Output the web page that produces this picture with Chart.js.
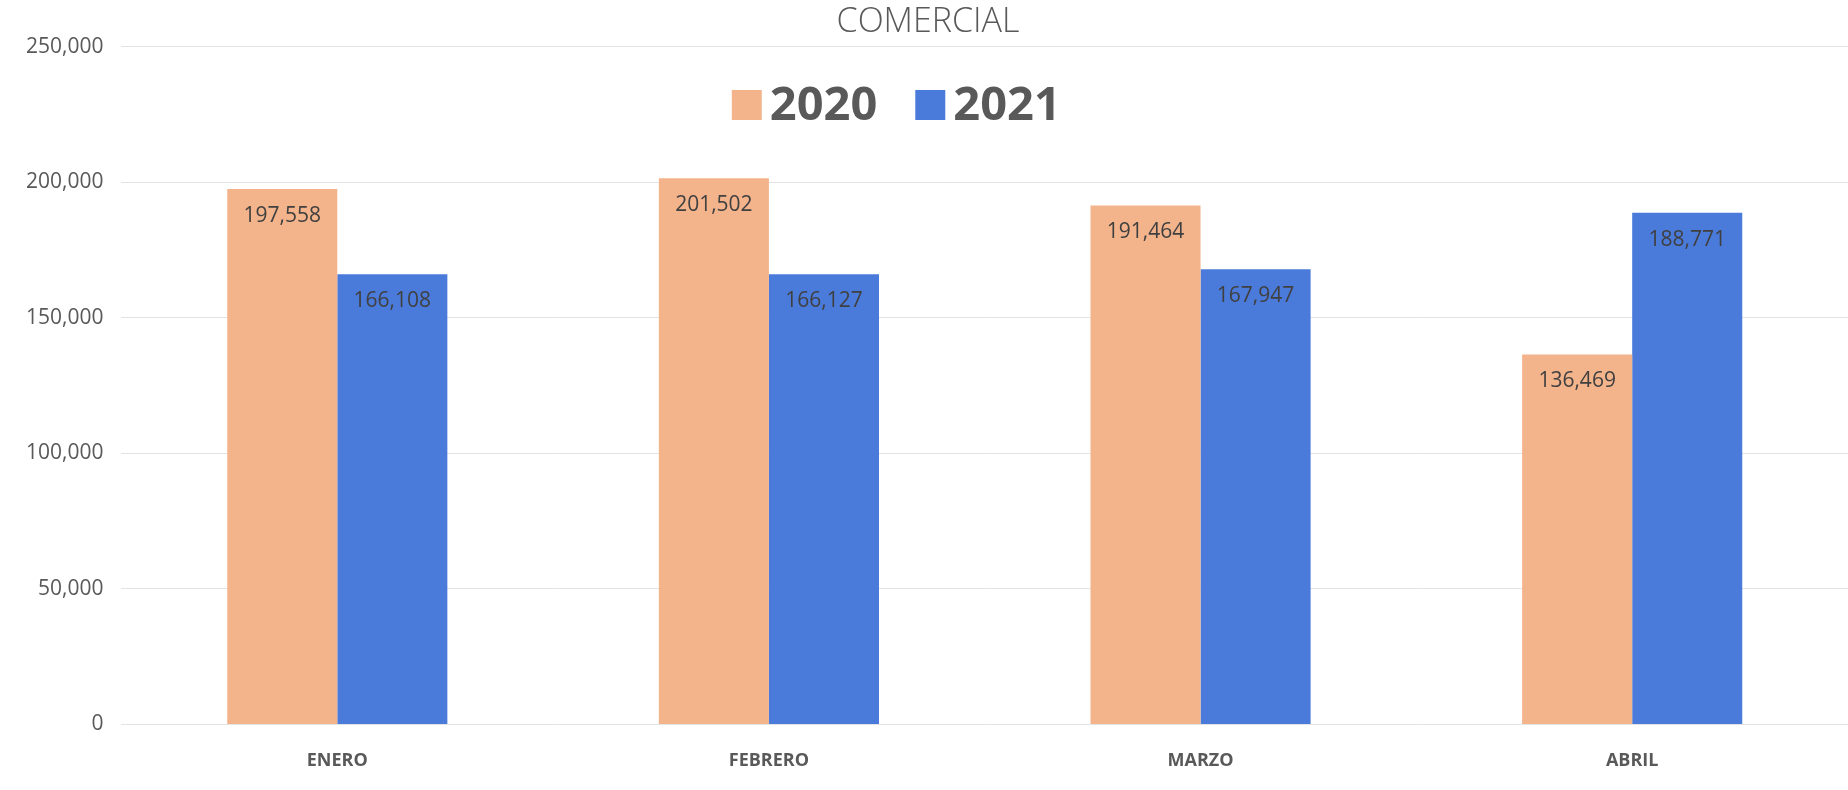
<!DOCTYPE html>
<html>
<head>
<meta charset="utf-8">
<script src="https://cdn.jsdelivr.net/npm/chart.js@4/dist/chart.umd.min.js"></script>
<style>
  html, body { margin: 0; padding: 0; background: #fff; }
  #wrap { width: 1848px; height: 790px; position: relative; }
</style>
</head>
<body>
<div id="wrap"><canvas id="comercialChart"></canvas></div>
<script>
// datos
const meses = ['ENERO', 'FEBRERO', 'MARZO', 'ABRIL'];
const anios = ['2020', '2021'];
const ventas2020 = [197558, 201502, 191464, 136469];
const ventas2021 = [166108, 166127, 167947, 188771];
const ticksY = [0, 50000, 100000, 150000, 200000, 250000];

const fmt = v => v.toLocaleString('en-US');

// etiquetas de valor dentro de la barra
const valorBarra = {
  id: 'valorBarra',
  afterDatasetsDraw(chart) {
    const ctx = chart.ctx;
    ctx.save();
    ctx.font = '21px "Open Sans"';
    ctx.fillStyle = '#404040';
    ctx.textAlign = 'center';
    ctx.textBaseline = 'middle';
    chart.data.datasets.forEach((ds, i) => {
      chart.getDatasetMeta(i).data.forEach((bar, j) => {
        ctx.fillText(fmt(ds.data[j]), bar.x, bar.y + 27);
      });
    });
    ctx.restore();
  }
};

// leyenda grande encima del area del grafico
const leyenda = {
  id: 'leyenda',
  afterDraw(chart) {
    const ctx = chart.ctx;
    ctx.save();
    ctx.font = 'bold 47px "Open Sans"';
    ctx.textBaseline = 'middle';
    const box = 30, gap = 8, sep = 38;
    const items = chart.data.datasets.map(ds => ({ t: ds.label, c: ds.backgroundColor, w: ctx.measureText(ds.label).width }));
    let total = items.reduce((s, it) => s + box + gap + it.w, 0) + sep * (items.length - 1);
    let x = chart.width * 0.485 - total / 2;
    const y = 105;
    items.forEach(it => {
      ctx.fillStyle = it.c;
      ctx.fillRect(x, y - box / 2, box, box);
      x += box + gap;
      ctx.fillStyle = '#595959';
      ctx.fillText(it.t, x, y + 2);
      x += it.w + sep;
    });
    ctx.restore();
  }
};

const ctx = document.getElementById('comercialChart').getContext('2d');
new Chart(ctx, {
  type: 'bar',
  data: {
    labels: meses,
    datasets: [
      { label: anios[0], data: ventas2020, backgroundColor: '#F3B48C' },
      { label: anios[1], data: ventas2021, backgroundColor: '#4A7BDB' }
    ]
  },
  options: {
    responsive: true,
    maintainAspectRatio: false,
    animation: false,
    layout: { padding: { left: 8, right: 0, top: 0, bottom: 0 } },
    datasets: {
      bar: { categoryPercentage: 0.51, barPercentage: 1.0 }
    },
    plugins: {
      legend: { display: false },
      tooltip: { enabled: false },
      title: {
        display: true,
        text: 'COMERCIAL',
        color: '#595959',
        font: { family: 'Open Sans', size: 34, weight: '300' },
        padding: { top: 2, bottom: 4 }
      }
    },
    scales: {
      x: {
        grid: { display: false },
        border: { display: false },
        ticks: {
          color: '#595959',
          padding: 18,
          font: { family: 'Open Sans', size: 18, weight: 'bold' }
        }
      },
      y: {
        min: 0,
        max: 250000,
        afterBuildTicks: axis => { axis.ticks = ticksY.map(v => ({ value: v })); },
        grid: { color: '#e3e3e3', lineWidth: 1, drawTicks: false },
        border: { display: false },
        ticks: {
          color: '#595959',
          padding: 18,
          font: { family: 'Open Sans', size: 21 },
          callback: v => fmt(v)
        }
      }
    }
  },
  plugins: [valorBarra, leyenda]
});
</script>
</body>
</html>
